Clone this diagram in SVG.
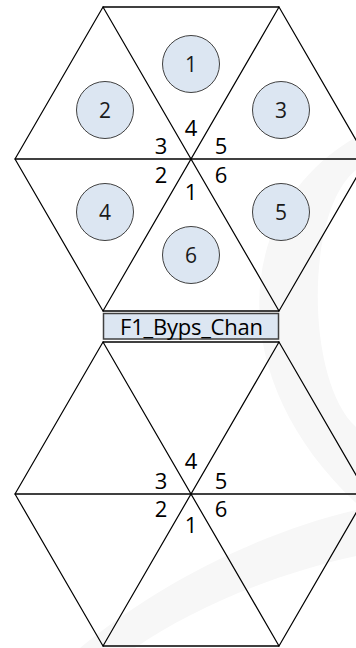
<svg xmlns="http://www.w3.org/2000/svg" width="356" height="648" viewBox="0 0 356 648">
  <style>
    .bg { fill: #ffffff; }
    .mark { fill: #f7f7f7; stroke: none; }
    .edge { stroke: #000000; stroke-width: 1.2; fill: none; stroke-linecap: round; }
    .axis { stroke: #404040; stroke-width: 2; fill: none; }
    .slot { fill: #dce6f2; stroke: #404040; stroke-width: 1; }
    .slot-num { font-family: "Open Sans", Lato, "Liberation Sans", sans-serif; font-size: 21px; fill: #1a1a1a; text-anchor: middle; }
    .face { font-family: "Open Sans", Lato, "Liberation Sans", sans-serif; font-size: 22px; fill: #000000; text-anchor: middle; }
    .tag-box { fill: #dce6f2; stroke: #404040; stroke-width: 1.5; }
    .tag-text { font-family: "Open Sans", Lato, "Liberation Sans", sans-serif; font-size: 22px; fill: #000000; text-anchor: middle; }
  </style>

  <rect class="bg" x="0" y="0" width="356" height="648"/>

  <!-- faint background swoosh -->
  <g id="backdrop">
    <path class="mark" d="M356 137 C230 210 224 380 356 503 L356 427 C305 380 305 210 356 170 Z"/>
    <path class="mark" d="M80 648 C150 590 250 535 356 510 L356 556 C270 575 190 610 135 648 Z"/>
  </g>

  <!-- hexagon edges -->
  <g id="connectors">
    <!-- upper hexagon: centre (191,159) -->
    <line class="axis" x1="103" y1="7" x2="279" y2="7"/>
    <line class="axis" x1="15" y1="159" x2="367" y2="159"/>
    <line class="axis" x1="103" y1="311" x2="279" y2="311"/>
    <line class="edge" x1="103" y1="7" x2="279" y2="311"/>
    <line class="edge" x1="279" y1="7" x2="103" y2="311"/>
    <line class="edge" x1="103" y1="7" x2="15" y2="159"/>
    <line class="edge" x1="15" y1="159" x2="103" y2="311"/>
    <line class="edge" x1="279" y1="7" x2="367" y2="159"/>
    <line class="edge" x1="367" y1="159" x2="279" y2="311"/>

    <!-- lower hexagon: centre (191,494) -->
    <line class="axis" x1="103" y1="342" x2="279" y2="342"/>
    <line class="axis" x1="15" y1="494" x2="367" y2="494"/>
    <line class="axis" x1="103" y1="646" x2="279" y2="646"/>
    <line class="edge" x1="103" y1="342" x2="279" y2="646"/>
    <line class="edge" x1="279" y1="342" x2="103" y2="646"/>
    <line class="edge" x1="103" y1="342" x2="15" y2="494"/>
    <line class="edge" x1="15" y1="494" x2="103" y2="646"/>
    <line class="edge" x1="279" y1="342" x2="367" y2="494"/>
    <line class="edge" x1="367" y1="494" x2="279" y2="646"/>
  </g>

  <!-- slots in the upper hexagon -->
  <g id="slot-1"><circle class="slot" cx="191" cy="64" r="28.5"/><text class="slot-num" x="191" y="72">1</text></g>
  <g id="slot-2"><circle class="slot" cx="105" cy="110" r="28.5"/><text class="slot-num" x="105" y="118">2</text></g>
  <g id="slot-3"><circle class="slot" cx="281" cy="110" r="28.5"/><text class="slot-num" x="281" y="118">3</text></g>
  <g id="slot-4"><circle class="slot" cx="105" cy="212" r="28.5"/><text class="slot-num" x="105" y="220">4</text></g>
  <g id="slot-5"><circle class="slot" cx="281" cy="212" r="28.5"/><text class="slot-num" x="281" y="220">5</text></g>
  <g id="slot-6"><circle class="slot" cx="191" cy="255" r="28.5"/><text class="slot-num" x="191" y="263">6</text></g>

  <!-- face numbers, upper hexagon -->
  <g id="faces-upper">
    <text class="face" x="191" y="136">4</text>
    <text class="face" x="161" y="154">3</text>
    <text class="face" x="221" y="154">5</text>
    <text class="face" x="161" y="183">2</text>
    <text class="face" x="221" y="183">6</text>
    <text class="face" x="191" y="200">1</text>
  </g>

  <!-- channel tag -->
  <g id="tag">
    <rect class="tag-box" x="103.5" y="313.5" width="175" height="25.5"/>
    <text class="tag-text" x="191.5" y="335" textLength="143">F1_Byps_Chan</text>
  </g>

  <!-- face numbers, lower hexagon -->
  <g id="faces-lower">
    <text class="face" x="191" y="469">4</text>
    <text class="face" x="161" y="489">3</text>
    <text class="face" x="221" y="489">5</text>
    <text class="face" x="161" y="517">2</text>
    <text class="face" x="221" y="517">6</text>
    <text class="face" x="191" y="533">1</text>
  </g>
</svg>
